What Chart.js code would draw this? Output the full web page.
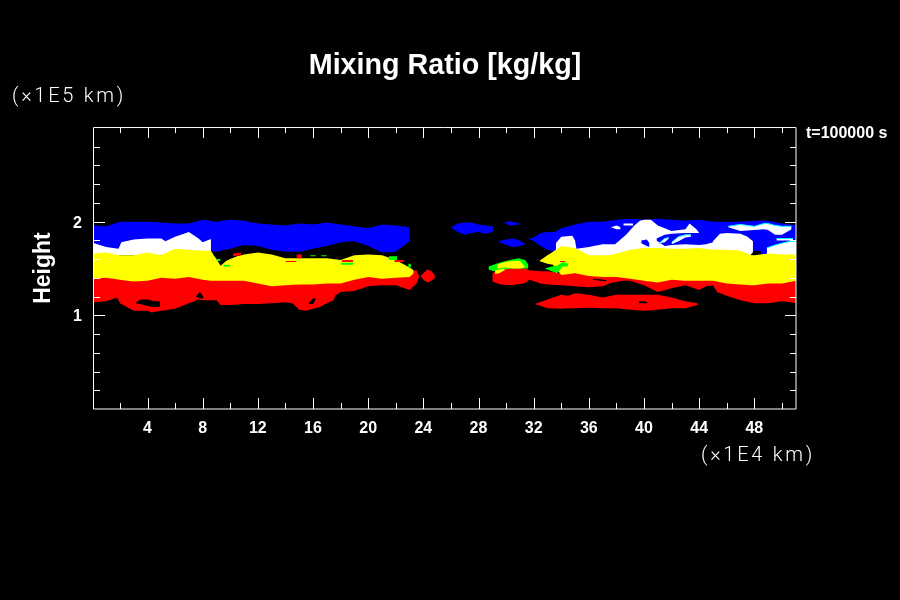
<!DOCTYPE html>
<html>
<head>
<meta charset="utf-8">
<title>Mixing Ratio</title>
<script src="https://cdn.jsdelivr.net/npm/chart.js@4/dist/chart.umd.js"></script>
<style>
    html, body { margin: 0; background: #000; }
    canvas { display: block; }
</style>
</head>
<body>
<canvas id="mixing-chart" width="900" height="600"></canvas>
<script>
// Tick positions and labels
const xTickValues = [2, 4, 6, 8, 10, 12, 14, 16, 18, 20, 22, 24, 26, 28, 30, 32, 34, 36, 38, 40, 42, 44, 46, 48, 50];
const xLabelValues = [4, 8, 12, 16, 20, 24, 28, 32, 36, 40, 44, 48];
const yTickValues = [0.2, 0.4, 0.6, 0.8, 1, 1.2, 1.4, 1.6, 1.8, 2, 2.2, 2.4, 2.6, 2.8];
const yLabelValues = [1, 2];

// Western bands, contour edges (x in 1E4 km, height in 1E5 km)
const blueWestX = [0.1, 1, 2, 3, 4, 5, 6, 7, 8, 9, 10, 11, 12, 13, 14, 15, 16, 17, 18, 19, 20, 21, 22, 23];
const blueWestTop = [1.96, 1.95, 2.00, 2.00, 2.00, 1.99, 1.98, 1.98, 2.02, 2.00, 2.02, 2.01, 1.98, 1.97, 1.96, 1.98, 1.97, 1.99, 1.97, 1.95, 1.93, 1.97, 1.96, 1.94];
const blueWestBottom = [1.72, 1.70, 1.68, 1.68, 1.68, 1.68, 1.70, 1.70, 1.69, 1.68, 1.71, 1.75, 1.74, 1.70, 1.68, 1.68, 1.71, 1.74, 1.78, 1.79, 1.74, 1.67, 1.68, 1.79];

const whiteWestX = [0.1, 1, 1.9, 2.1, 3, 4, 5, 5.3, 6, 7, 7.7, 8, 8.6];
const whiteWestTop = [1.77, 1.73, 1.71, 1.78, 1.81, 1.82, 1.82, 1.79, 1.84, 1.89, 1.82, 1.78, 1.815];
const whiteWestBottom = [1.65, 1.65, 1.64, 1.64, 1.64, 1.65, 1.64, 1.65, 1.69, 1.68, 1.68, 1.68, 1.68];

const yellowWestX = [0.1, 1, 2, 2.5, 3, 4, 5, 6, 7, 8, 8.6, 8.8, 9, 9.3, 9.7, 10, 10.5, 11, 12, 13, 14, 15, 16, 17, 18, 19, 20, 21, 22, 23, 23.3];
const yellowWestTop = [1.66, 1.67, 1.64, 1.64, 1.64, 1.67, 1.64, 1.71, 1.70, 1.69, 1.69, 1.64, 1.60, 1.53, 1.58, 1.60, 1.63, 1.65, 1.67, 1.65, 1.61, 1.61, 1.61, 1.61, 1.59, 1.64, 1.65, 1.64, 1.59, 1.51, 1.48];
const yellowWestBottom = [1.39, 1.40, 1.38, 1.37, 1.36, 1.37, 1.40, 1.39, 1.41, 1.38, 1.37, 1.37, 1.37, 1.37, 1.37, 1.37, 1.37, 1.37, 1.34, 1.31, 1.32, 1.33, 1.33, 1.34, 1.34, 1.38, 1.41, 1.39, 1.40, 1.41, 1.45];

const redWestX = [0.1, 1, 1.8, 2, 3, 4, 4.3, 5, 6, 7, 7.7, 8, 9, 9.3, 10, 11, 12, 13, 14, 14.5, 15, 15.5, 16, 16.5, 17, 17.5, 17.6, 18, 19, 20, 21, 22, 23, 23.5, 23.7];
const redWestTop = [1.42, 1.42, 1.42, 1.42, 1.42, 1.42, 1.42, 1.42, 1.42, 1.42, 1.42, 1.42, 1.42, 1.42, 1.42, 1.42, 1.42, 1.42, 1.42, 1.42, 1.42, 1.42, 1.42, 1.42, 1.42, 1.42, 1.42, 1.42, 1.42, 1.44, 1.44, 1.44, 1.47, 1.48, 1.41];
const redWestBottom = [1.14, 1.15, 1.19, 1.13, 1.05, 1.05, 1.03, 1.05, 1.07, 1.13, 1.17, 1.16, 1.16, 1.11, 1.11, 1.12, 1.12, 1.13, 1.14, 1.13, 1.06, 1.05, 1.07, 1.09, 1.13, 1.16, 1.21, 1.25, 1.26, 1.31, 1.32, 1.32, 1.27, 1.34, 1.41];

const redIsleX = [23.8, 24, 24.3, 24.6, 24.85];
const redIsleTop = [1.42, 1.45, 1.49, 1.47, 1.42];
const redIsleBottom = [1.42, 1.38, 1.35, 1.37, 1.40];

// Black holes in the western red band
const holeAX = [3.1, 3.5, 4, 4.5, 4.9];
const holeATop = [1.13, 1.17, 1.17, 1.15, 1.15];
const holeABottom = [1.13, 1.12, 1.10, 1.09, 1.09];
const holeBX = [7.5, 7.8, 8.05];
const holeBTop = [1.20, 1.25, 1.20];
const holeBBottom = [1.20, 1.18, 1.18];
const holeCX = [15.66, 16, 16.2];
const holeCTop = [1.13, 1.18, 1.18];
const holeCBottom = [1.12, 1.12, 1.17];

// Small blue clouds in the middle
const blueCloudAX = [26, 26.5, 27, 27.5, 28, 28.5, 29, 29.1];
const blueCloudATop = [1.94, 1.98, 1.99, 1.99, 1.97, 1.96, 1.95, 1.92];
const blueCloudABottom = [1.94, 1.89, 1.86, 1.88, 1.89, 1.87, 1.89, 1.91];
const blueCloudBX = [29.8, 30.3, 31];
const blueCloudBTop = [1.99, 2.005, 1.98];
const blueCloudBBottom = [1.99, 1.96, 1.97];
const blueCloudCX = [29.4, 30, 30.5, 31, 31.4];
const blueCloudCTop = [1.79, 1.81, 1.82, 1.80, 1.76];
const blueCloudCBottom = [1.79, 1.75, 1.73, 1.74, 1.76];

// Eastern bands
const blueEastX = [31.6, 32, 32.5, 33, 33.5, 34, 35, 36, 37, 38, 39, 40, 41, 42, 43, 44, 45, 46, 47, 48, 49, 50, 51.05];
const blueEastTop = [1.82, 1.83, 1.88, 1.89, 1.89, 1.93, 1.97, 2.00, 2.00, 2.02, 2.03, 2.02, 2.03, 2.02, 2.01, 2.02, 2.00, 2.00, 2.00, 2.01, 2.01, 1.98, 1.96];
const blueEastBottom = [1.82, 1.79, 1.74, 1.70, 1.68, 1.70, 1.63, 1.63, 1.63, 1.63, 1.63, 1.63, 1.63, 1.63, 1.63, 1.63, 1.63, 1.63, 1.63, 1.63, 1.63, 1.63, 1.63];

const whiteEastX = [33.6, 34, 34.8, 35, 35.1, 36, 37, 37.9, 38.7, 39.3, 39.7, 40, 40.5, 41, 42, 43, 43.3, 43.8, 44, 44.2, 45, 45.5, 46, 47, 47.5, 47.9];
const whiteEastTop = [1.77, 1.84, 1.85, 1.80, 1.71, 1.73, 1.76, 1.76, 1.86, 1.96, 2.01, 2.02, 2.02, 1.96, 1.90, 1.92, 1.98, 1.92, 1.88, 1.76, 1.79, 1.87, 1.88, 1.87, 1.84, 1.79];
const whiteEastBottom = [1.66, 1.66, 1.66, 1.66, 1.66, 1.63, 1.63, 1.63, 1.63, 1.63, 1.63, 1.63, 1.63, 1.63, 1.63, 1.63, 1.63, 1.63, 1.63, 1.63, 1.63, 1.63, 1.63, 1.63, 1.63, 1.63];

const whiteFarEastX = [48.9, 49.5, 50, 50.6, 51.05];
const whiteFarEastTop = [1.72, 1.75, 1.77, 1.79, 1.79];
const whiteFarEastBottom = [1.64, 1.64, 1.64, 1.64, 1.64];

const whiteStreakX = [46.1, 47, 48, 48.7, 49, 49.5, 50, 50.7];
const whiteStreakTop = [1.95, 1.97, 1.95, 1.98, 1.98, 1.96, 1.95, 1.95];
const whiteStreakBottom = [1.94, 1.90, 1.91, 1.92, 1.91, 1.86, 1.86, 1.92];

const whiteSliverX = [49.6, 50.2, 50.8];
const whiteSliverTop = [1.82, 1.82, 1.82];
const whiteSliverBottom = [1.80, 1.80, 1.80];

const whiteDotAX = [37.6, 38, 38.3];
const whiteDotATop = [1.94, 1.96, 1.94];
const whiteDotABottom = [1.94, 1.92, 1.92];
const whiteDotBX = [38.5, 38.9, 39.2];
const whiteDotBTop = [1.98, 1.98, 1.98];
const whiteDotBBottom = [1.96, 1.96, 1.96];

// Blue wedge cut into the eastern white, with the swirls inside it
const blueWedgeX = [40.9, 41.5, 42, 43, 44, 44.5, 45];
const blueWedgeTop = [1.82, 1.86, 1.87, 1.88, 1.88, 1.84, 1.79];
const blueWedgeBottom = [1.80, 1.74, 1.75, 1.76, 1.75, 1.76, 1.78];
const blueNotchX = [39.8, 40.2, 40.4];
const blueNotchTop = [1.80, 1.81, 1.77];
const blueNotchBottom = [1.77, 1.74, 1.73];
const swirlAX = [42, 42.5, 43, 43.4];
const swirlATop = [1.78, 1.84, 1.86, 1.86];
const swirlABottom = [1.76, 1.79, 1.83, 1.84];
const swirlBX = [41.1, 41.5, 41.8];
const swirlBTop = [1.77, 1.82, 1.83];
const swirlBBottom = [1.77, 1.78, 1.82];

const yellowEastX = [32.4, 33, 33.4, 34, 35, 36, 37, 37.5, 38, 39, 40, 41, 42, 43, 44, 45, 46, 47, 47.8, 48, 49, 50, 51.05];
const yellowEastTop = [1.58, 1.64, 1.68, 1.74, 1.72, 1.64, 1.64, 1.64, 1.66, 1.70, 1.72, 1.72, 1.71, 1.71, 1.72, 1.70, 1.70, 1.69, 1.64, 1.64, 1.66, 1.65, 1.65];
const yellowEastBottom = [1.58, 1.55, 1.54, 1.43, 1.45, 1.42, 1.41, 1.41, 1.41, 1.39, 1.37, 1.35, 1.38, 1.37, 1.37, 1.37, 1.34, 1.33, 1.32, 1.32, 1.34, 1.34, 1.37];

const redEastX = [29, 29.6, 30.3, 31.3, 31.7, 32.5, 33, 34, 35, 36, 37, 37.7, 38.5, 39, 40, 41, 42, 43, 44, 44.5, 45, 45.3, 46, 47, 48, 49, 50, 51.05];
const redEastTop = [1.45, 1.50, 1.51, 1.51, 1.48, 1.47, 1.47, 1.45, 1.45, 1.45, 1.45, 1.45, 1.45, 1.45, 1.45, 1.45, 1.45, 1.45, 1.45, 1.45, 1.45, 1.45, 1.45, 1.45, 1.45, 1.45, 1.45, 1.45];
const redEastBottom = [1.36, 1.33, 1.32, 1.34, 1.38, 1.34, 1.33, 1.32, 1.31, 1.30, 1.31, 1.35, 1.37, 1.37, 1.32, 1.25, 1.29, 1.32, 1.27, 1.31, 1.32, 1.25, 1.21, 1.16, 1.13, 1.13, 1.15, 1.13];

const redLowerX = [32.1, 33, 34, 34.5, 35, 36, 37, 38, 39, 40, 41, 42, 43, 43.9];
const redLowerTop = [1.12, 1.17, 1.22, 1.21, 1.235, 1.22, 1.19, 1.22, 1.22, 1.22, 1.22, 1.19, 1.15, 1.13];
const redLowerBottom = [1.12, 1.075, 1.07, 1.075, 1.075, 1.08, 1.075, 1.075, 1.06, 1.05, 1.06, 1.075, 1.075, 1.11];

const holeDX = [36.3, 36.8, 37.3];
const holeDTop = [1.39, 1.385, 1.375];
const holeDBottom = [1.38, 1.37, 1.365];
const holeEX = [39.6, 40, 40.25];
const holeETop = [1.15, 1.15, 1.14];
const holeEBottom = [1.13, 1.13, 1.13];
const holeFX = [47.75, 48, 48.5];
const holeFTop = [1.65, 1.69, 1.685];
const holeFBottom = [1.64, 1.635, 1.65];

// Green rims and the yellow cores inside them
const greenArcX = [28.72, 29.08, 29.68, 30.29, 30.89, 31.38, 31.62];
const greenArcTop = [1.52, 1.54, 1.57, 1.59, 1.61, 1.59, 1.54];
const greenArcBottom = [1.49, 1.47, 1.48, 1.50, 1.50, 1.50, 1.50];
const yellowCoreAX = [29.35, 29.9, 30.5, 31, 31.35];
const yellowCoreATop = [1.54, 1.57, 1.58, 1.58, 1.52];
const yellowCoreABottom = [1.50, 1.51, 1.50, 1.50, 1.51];
const yellowCoreBX = [29.2, 29.5, 29.9];
const yellowCoreBTop = [1.48, 1.49, 1.50];
const yellowCoreBBottom = [1.44, 1.45, 1.48];
const greenPatchX = [32.8, 33.3, 33.7, 34.1, 34.5];
const greenPatchTop = [1.50, 1.52, 1.53, 1.57, 1.55];
const greenPatchBottom = [1.50, 1.47, 1.45, 1.52, 1.52];

// Small green and red flecks along the yellow edge
const greenFleckX = [[9, 9.3], [9.5, 10], [21.5, 22.1], [22.9, 23.1], [18, 18.9], [15.8, 16.2], [16.6, 17]];
const greenFleckTop = [[1.60, 1.60], [1.54, 1.54], [1.63, 1.63], [1.55, 1.55], [1.56, 1.56], [1.64, 1.64], [1.64, 1.64]];
const greenFleckBottom = [[1.58, 1.58], [1.52, 1.52], [1.59, 1.59], [1.51, 1.51], [1.54, 1.54], [1.63, 1.63], [1.63, 1.63]];
const redFleckX = [[10.2, 10.8], [14.8, 15.2], [14, 14.8], [18.1, 18.9], [21.9, 22.6], [33.9, 34.3]];
const redFleckTop = [[1.66, 1.67], [1.65, 1.65], [1.58, 1.58], [1.59, 1.59], [1.59, 1.59], [1.58, 1.58]];
const redFleckBottom = [[1.63, 1.64], [1.61, 1.61], [1.57, 1.57], [1.57, 1.57], [1.57, 1.57], [1.57, 1.57]];

function toPoints(xs, ys) {
    return xs.map((x, i) => ({ x: x, y: ys[i] }));
}

// A filled region is the top edge filled down to the bottom edge
function band(xs, tops, bottoms, color, edgeColor) {
    return [
        {
            data: toPoints(xs, tops),
            fill: '+1',
            backgroundColor: color,
            borderColor: edgeColor || color,
            borderWidth: edgeColor ? 1 : 0,
            pointRadius: 0,
            tension: 0
        },
        {
            data: toPoints(xs, bottoms),
            fill: false,
            borderWidth: 0,
            pointRadius: 0,
            tension: 0
        }
    ];
}

const BLUE = '#0000ff', RED = '#ff0000', YELLOW = '#ffff00', GREEN = '#00ff00', WHITE = '#ffffff', BLACK = '#000000', CYAN = '#00ffff';

// The first dataset is painted last, so this list runs from front to back
const layers = [
    ...greenFleckX.flatMap((xs, i) => band(xs, greenFleckTop[i], greenFleckBottom[i], GREEN)),
    ...redFleckX.flatMap((xs, i) => band(xs, redFleckTop[i], redFleckBottom[i], RED)),
    ...band(yellowCoreAX, yellowCoreATop, yellowCoreABottom, YELLOW),
    ...band(yellowCoreBX, yellowCoreBTop, yellowCoreBBottom, YELLOW),
    ...band(greenArcX, greenArcTop, greenArcBottom, GREEN),
    ...band(greenPatchX, greenPatchTop, greenPatchBottom, GREEN),
    ...band(yellowWestX, yellowWestTop, yellowWestBottom, YELLOW),
    ...band(yellowEastX, yellowEastTop, yellowEastBottom, YELLOW),
    ...band(holeAX, holeATop, holeABottom, BLACK),
    ...band(holeBX, holeBTop, holeBBottom, BLACK),
    ...band(holeCX, holeCTop, holeCBottom, BLACK),
    ...band(holeDX, holeDTop, holeDBottom, BLACK),
    ...band(holeEX, holeETop, holeEBottom, BLACK),
    ...band(holeFX, holeFTop, holeFBottom, BLACK),
    ...band(redWestX, redWestTop, redWestBottom, RED),
    ...band(redIsleX, redIsleTop, redIsleBottom, RED),
    ...band(redEastX, redEastTop, redEastBottom, RED),
    ...band(redLowerX, redLowerTop, redLowerBottom, RED),
    ...band(swirlAX, swirlATop, swirlABottom, WHITE, CYAN),
    ...band(swirlBX, swirlBTop, swirlBBottom, WHITE, CYAN),
    ...band(blueNotchX, blueNotchTop, blueNotchBottom, BLUE),
    ...band(blueWedgeX, blueWedgeTop, blueWedgeBottom, BLUE),
    ...band(whiteStreakX, whiteStreakTop, whiteStreakBottom, WHITE, CYAN),
    ...band(whiteSliverX, whiteSliverTop, whiteSliverBottom, WHITE, CYAN),
    ...band(whiteDotAX, whiteDotATop, whiteDotABottom, WHITE),
    ...band(whiteDotBX, whiteDotBTop, whiteDotBBottom, WHITE),
    ...band(whiteWestX, whiteWestTop, whiteWestBottom, WHITE),
    ...band(whiteEastX, whiteEastTop, whiteEastBottom, WHITE),
    ...band(whiteFarEastX, whiteFarEastTop, whiteFarEastBottom, WHITE, CYAN),
    ...band(blueWestX, blueWestTop, blueWestBottom, BLUE),
    ...band(blueEastX, blueEastTop, blueEastBottom, BLUE),
    ...band(blueCloudAX, blueCloudATop, blueCloudABottom, BLUE),
    ...band(blueCloudBX, blueCloudBTop, blueCloudBBottom, BLUE),
    ...band(blueCloudCX, blueCloudCTop, blueCloudCBottom, BLUE)
];

const THIN_FONT = '300 20px Roboto';

// Frame, inward ticks on all four sides, and the free-standing labels
const framePlugin = {
    id: 'frame',
    afterDraw(chart) {
        const { ctx, chartArea: area, scales } = chart;
        ctx.save();
        ctx.strokeStyle = '#ffffff';
        ctx.lineWidth = 1;
        ctx.beginPath();
        ctx.rect(area.left - 0.5, area.top + 0.5, area.right - area.left + 0.5, area.bottom - area.top - 0.5);

        xTickValues.forEach(v => {
            const px = Math.round(scales.x.getPixelForValue(v)) + 0.5;
            const len = xLabelValues.includes(v) ? 11 : 6;
            ctx.moveTo(px, area.bottom);
            ctx.lineTo(px, area.bottom - len);
            ctx.moveTo(px, area.top);
            ctx.lineTo(px, area.top + len);
        });
        yTickValues.forEach(v => {
            const py = Math.round(scales.y.getPixelForValue(v)) + 0.5;
            const len = yLabelValues.includes(v) ? 11 : 6;
            ctx.moveTo(area.left, py);
            ctx.lineTo(area.left + len, py);
            ctx.moveTo(area.right, py);
            ctx.lineTo(area.right - len, py);
        });
        ctx.stroke();

        ctx.fillStyle = '#ffffff';
        ctx.textBaseline = 'middle';
        ctx.textAlign = 'left';
        ctx.font = THIN_FONT;
        ctx.letterSpacing = '2.75px';
        ctx.fillText('(×1E5 km)', 12, 96.5);
        ctx.fillText('(×1E4 km)', 701, 456);
        ctx.letterSpacing = '0px';
        ctx.font = 'bold 16px "Liberation Sans"';
        ctx.fillText('t=100000 s', 806, 134);
        ctx.restore();
    }
};

new Chart(document.getElementById('mixing-chart'), {
    type: 'line',
    data: { datasets: layers },
    plugins: [framePlugin],
    options: {
        responsive: false,
        animation: false,
        layout: { padding: { left: 0, right: 104, top: 0, bottom: 0 } },
        scales: {
            x: {
                type: 'linear',
                min: 0.12,
                max: 51.02,
                afterBuildTicks: scale => { scale.ticks = xTickValues.map(v => ({ value: v })); },
                afterFit: scale => { scale.height = 191; },
                grid: { display: false, drawTicks: false },
                border: { display: false },
                ticks: {
                    color: '#ffffff',
                    font: { family: 'Liberation Sans', weight: 'bold', size: 16 },
                    padding: 10,
                    autoSkip: false,
                    maxRotation: 0,
                    callback: v => xLabelValues.includes(v) ? String(v) : ''
                }
            },
            y: {
                type: 'linear',
                min: 0,
                max: 3.01,
                afterBuildTicks: scale => { scale.ticks = yTickValues.map(v => ({ value: v })); },
                afterFit: scale => { scale.width = 94; },
                grid: { display: false, drawTicks: false },
                border: { display: false },
                title: {
                    display: true,
                    text: 'Height',
                    color: '#ffffff',
                    font: { family: 'Liberation Sans', weight: 'bold', size: 23 },
                    padding: { top: 30, bottom: 0 }
                },
                ticks: {
                    color: '#ffffff',
                    font: { family: 'Liberation Sans', weight: 'bold', size: 16 },
                    padding: 12,
                    labelOffset: 1.5,
                    autoSkip: false,
                    callback: v => yLabelValues.includes(v) ? String(v) : ''
                }
            }
        },
        plugins: {
            legend: { display: false },
            tooltip: { enabled: false },
            title: {
                display: true,
                fullSize: false,
                text: 'Mixing Ratio [kg/kg]',
                color: '#ffffff',
                font: { family: 'Liberation Sans', weight: 'bold', size: 28.7, lineHeight: 1.2 },
                padding: { top: 48.5, bottom: 44.1 }
            }
        }
    }
});
</script>
</body>
</html>
